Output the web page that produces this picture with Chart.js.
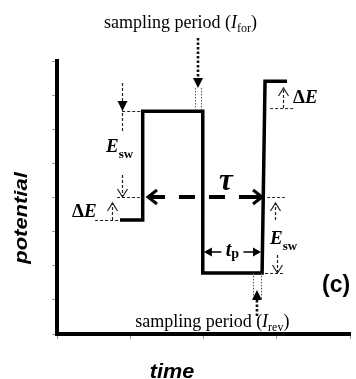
<!DOCTYPE html>
<html><head><meta charset="utf-8">
<script src="https://cdn.jsdelivr.net/npm/chart.js@4"></script>
<style>html,body{margin:0;padding:0;background:#fff;}</style>
</head><body>
<canvas id="c" width="356" height="379"></canvas>
<script>
// ---- data (data units: time 0..4, potential 0..8) ----
const stepTimes = [0.86, 1.17, 1.17, 1.99, 1.99, 2.80, 2.84, 3.14];
const stepPotentials = [3.34, 3.34, 6.53, 6.53, 1.79, 1.79, 7.41, 7.41];
const timeTicks = [0, 1, 2, 3, 4];
const potentialTicks = [0, 1, 2, 3, 4, 5, 6, 7, 8];

// dashed guide levels (potential) and their time extents
const guideLevels = [6.535, 4.015, 3.341, 6.62, 4.015, 1.788];
const guideStarts = [0.89, 0.82, 0.52, 2.91, 2.80, 2.84];
const guideEnds   = [1.17, 1.13, 0.86, 3.25, 3.11, 3.11];

// thin dashed vertical arrows: time, from, to (tip), filled head
const vArrowTimes = [0.887, 0.887, 0.751, 3.085, 2.976, 3.003];
const vArrowFrom  = [7.355, 4.659, 3.341, 6.623, 3.341, 2.315];
const vArrowTip   = [6.535, 4.015, 3.839, 7.209, 3.839, 1.788];
const vArrowEnd   = [5.919, 4.015, 3.839, 7.209, 3.839, 1.788];
const vArrowFilled = [true, false, false, false, false, false];

// tau arrow and t_p arrow
const tauLevel = 4.015, tauStart = 1.242, tauEnd = 2.799;
const tpLevel = 2.403, tpStart = 2.005, tpEnd = 2.785;

// sampling windows
const sampleFor = {left: 1.88, right: 1.97, center: 1.925, base: 6.535, tip: 7.209, top: 8.674};
const sampleRev = {left: 2.676, right: 2.785, center: 2.730, base: 1.788, tip: 1.289, bottom: 0.469};

const labelSerif = '"Liberation Serif", "Times New Roman", serif';
const labelSans = '"Liberation Sans", Arial, sans-serif';

function runsWidth(ctx, runs) {
  let w = 0;
  for (const r of runs) { ctx.font = r.font; w += ctx.measureText(r.t).width + (r.gap || 0); }
  return w;
}
function drawRuns(ctx, x, y, runs, align) {
  const w = runsWidth(ctx, runs);
  let cx = align === 'center' ? x - w / 2 : x;
  ctx.textBaseline = 'alphabetic';
  ctx.textAlign = 'left';
  for (const r of runs) {
    ctx.font = r.font;
    ctx.fillText(r.t, cx, y + (r.dy || 0));
    cx += ctx.measureText(r.t).width + (r.gap || 0);
  }
}
function head(ctx, x, y, dx, dy, len, half, filled) {
  const bx = x - dx * len, by = y - dy * len;
  const px = -dy * half, py = dx * half;
  ctx.beginPath();
  ctx.moveTo(bx + px, by + py);
  ctx.lineTo(x, y);
  ctx.lineTo(bx - px, by - py);
  if (filled) { ctx.closePath(); ctx.fill(); } else { ctx.stroke(); }
}

const annot = {
  id: 'annot',
  afterDraw(chart) {
    const ctx = chart.ctx;
    const X = v => chart.scales.x.getPixelForValue(v);
    const Y = v => chart.scales.y.getPixelForValue(v);
    ctx.save();
    ctx.fillStyle = '#000';
    ctx.strokeStyle = '#222';
    // guides
    ctx.lineWidth = 1;
    ctx.setLineDash([3, 2]);
    for (let i = 0; i < guideLevels.length; i++) {
      ctx.beginPath();
      ctx.moveTo(X(guideStarts[i]), Y(guideLevels[i]) + 0.5);
      ctx.lineTo(X(guideEnds[i]), Y(guideLevels[i]) + 0.5);
      ctx.stroke();
    }
    // vertical dashed arrows
    for (let i = 0; i < vArrowTimes.length; i++) {
      const x = Math.round(X(vArrowTimes[i])) + 0.5;
      ctx.setLineDash([3, 2]);
      ctx.lineWidth = 1.2;
      ctx.beginPath();
      ctx.moveTo(x, Y(vArrowFrom[i]));
      ctx.lineTo(x, Y(vArrowEnd[i]));
      ctx.stroke();
      ctx.setLineDash([]);
      const dir = vArrowTip[i] > vArrowFrom[i] ? -1 : 1;
      if (vArrowFilled[i]) head(ctx, x, Y(vArrowTip[i]), 0, dir, 10, 5, true);
      else head(ctx, x, Y(vArrowTip[i]), 0, dir, 8, 5, false);
    }
    // tau arrow
    ctx.strokeStyle = '#000';
    ctx.lineWidth = 4;
    ctx.setLineDash([16, 14]);
    const ty = Y(tauLevel);
    ctx.beginPath(); ctx.moveTo(X(tauStart) + 1, ty); ctx.lineTo(X(tauEnd) - 2, ty); ctx.stroke();
    ctx.setLineDash([]);
    ctx.lineWidth = 3;
    ctx.lineJoin = 'miter';
    head(ctx, X(tauStart), ty, -1, 0, 9, 7, false);
    head(ctx, X(tauEnd), ty, 1, 0, 9, 7, false);
    ctx.beginPath(); ctx.moveTo(X(tauEnd) - 22, ty); ctx.lineTo(X(tauEnd) - 2, ty); ctx.lineWidth = 4; ctx.stroke();
    // t_p arrow
    const py = Y(tpLevel);
    const pc = (X(tpStart) + X(tpEnd)) / 2;
    ctx.lineWidth = 1.6;
    ctx.beginPath();
    ctx.moveTo(X(tpStart) + 4, py); ctx.lineTo(pc - 11, py);
    ctx.moveTo(pc + 11, py); ctx.lineTo(X(tpEnd) - 4, py);
    ctx.stroke();
    head(ctx, X(tpStart), py, -1, 0, 8, 4.5, true);
    head(ctx, X(tpEnd), py, 1, 0, 8, 4.5, true);
    // sampling windows
    ctx.strokeStyle = '#555';
    ctx.lineWidth = 1;
    ctx.setLineDash([1.5, 1.5]);
    ctx.beginPath();
    for (const t of [sampleFor.left, sampleFor.right]) {
      ctx.moveTo(Math.round(X(t)) + 0.5, Y(sampleFor.tip)); ctx.lineTo(Math.round(X(t)) + 0.5, Y(sampleFor.base));
    }
    for (const t of [sampleRev.left, sampleRev.right]) {
      ctx.moveTo(Math.round(X(t)) + 0.5, Y(sampleRev.base)); ctx.lineTo(Math.round(X(t)) + 0.5, Y(sampleRev.tip) + 10);
    }
    ctx.stroke();
    ctx.strokeStyle = '#111';
    ctx.lineWidth = 2.6;
    ctx.setLineDash([2.5, 2]);
    ctx.beginPath();
    ctx.moveTo(X(sampleFor.center), Y(sampleFor.top)); ctx.lineTo(X(sampleFor.center), Y(sampleFor.tip) - 9);
    ctx.moveTo(X(sampleRev.center), Y(sampleRev.tip) + 10); ctx.lineTo(X(sampleRev.center), Y(sampleRev.bottom));
    ctx.stroke();
    ctx.setLineDash([]);
    head(ctx, X(sampleFor.center), Y(sampleFor.tip), 0, 1, 10, 5, true);
    head(ctx, X(sampleRev.center), Y(sampleRev.tip), 0, -1, 10, 5, true);

    // ---- texts ----
    ctx.fillStyle = '#000';
    const serif18 = '18px ' + labelSerif;
    drawRuns(ctx, X(1.685), Y(8.967), [
      {t: 'sampling period (', font: serif18},
      {t: 'I', font: 'italic 18px ' + labelSerif},
      {t: 'for', font: '12px ' + labelSerif, dy: 4},
      {t: ')', font: serif18}
    ], 'center');
    drawRuns(ctx, X(2.12), Y(0.2), [
      {t: 'sampling period (', font: serif18},
      {t: 'I', font: 'italic 18px ' + labelSerif},
      {t: 'rev', font: '12px ' + labelSerif, dy: 4},
      {t: ')', font: serif18}
    ], 'center');
    const bi = 'bold italic 19px ' + labelSerif;
    const sub = 'bold 13px ' + labelSerif;
    drawRuns(ctx, X(0.669), Y(5.333), [{t: 'E', font: bi}, {t: 'sw', font: sub, dy: 6}], 'left');
    drawRuns(ctx, X(2.908), Y(2.637), [{t: 'E', font: bi}, {t: 'sw', font: sub, dy: 6}], 'left');
    drawRuns(ctx, X(0.205), Y(3.429), [{t: '\u0394', font: 'bold 19px ' + labelSerif}, {t: 'E', font: bi}], 'left');
    drawRuns(ctx, X(3.222), Y(6.769), [{t: '\u0394', font: 'bold 19px ' + labelSerif}, {t: 'E', font: bi}], 'left');
    drawRuns(ctx, X(2.307), Y(4.22), [{t: '\u03C4', font: 'bold italic 31px ' + labelSerif}], 'center');
    drawRuns(ctx, pc, Y(2.286), [{t: 't', font: 'bold italic 20px ' + labelSerif}, {t: 'p', font: 'bold 14px ' + labelSerif, dy: 2}], 'center');
    drawRuns(ctx, X(3.618), Y(1.231), [{t: '(c)', font: 'bold 23px ' + labelSans}], 'left');
    // axis titles
    ctx.save();
    ctx.translate(X(1.570), Y(-1.084) + 7);
    ctx.scale(1.08, 1);
    drawRuns(ctx, 0, 0, [{t: 'time', font: 'bold italic 20px ' + labelSans}], 'center');
    ctx.restore();
    ctx.save();
    ctx.translate(X(-0.491) + 6, Y(3.399));
    ctx.rotate(-Math.PI / 2);
    ctx.scale(1.22, 1);
    drawRuns(ctx, 0, 0, [{t: 'potential', font: 'bold italic 18px ' + labelSans}], 'center');
    ctx.restore();
    ctx.restore();
  }
};

new Chart(document.getElementById('c'), {
  type: 'line',
  data: {
    datasets: [{
      data: stepTimes.map((t, i) => ({x: t, y: stepPotentials[i]})),
      borderColor: '#000',
      borderWidth: 3.5,
      pointRadius: 0,
      tension: 0,
      borderJoinStyle: 'miter',
      borderCapStyle: 'butt',
      fill: false
    }]
  },
  options: {
    responsive: false,
    animation: false,
    devicePixelRatio: 1,
    layout: {padding: {left: 0, top: 61, right: 6, bottom: 0}},
    plugins: {legend: {display: false}, tooltip: {enabled: false}},
    scales: {
      x: {
        type: 'linear', min: 0, max: 4,
        afterBuildTicks: s => { s.ticks = timeTicks.map(v => ({value: v})); },
        afterFit: s => { s.height = 45; },
        ticks: {display: false},
        grid: {drawOnChartArea: false, drawTicks: true, tickLength: 5, color: '#999', lineWidth: 1},
        border: {display: true, width: 4, color: '#000'}
      },
      y: {
        type: 'linear', min: 0, max: 8,
        afterBuildTicks: s => { s.ticks = potentialTicks.map(v => ({value: v})); },
        afterFit: s => { s.width = 57; },
        ticks: {display: false},
        grid: {drawOnChartArea: false, drawTicks: true, tickLength: 5, color: '#999', lineWidth: 1},
        border: {display: true, width: 4, color: '#000'}
      }
    }
  },
  plugins: [annot]
});
</script>
</body></html>
